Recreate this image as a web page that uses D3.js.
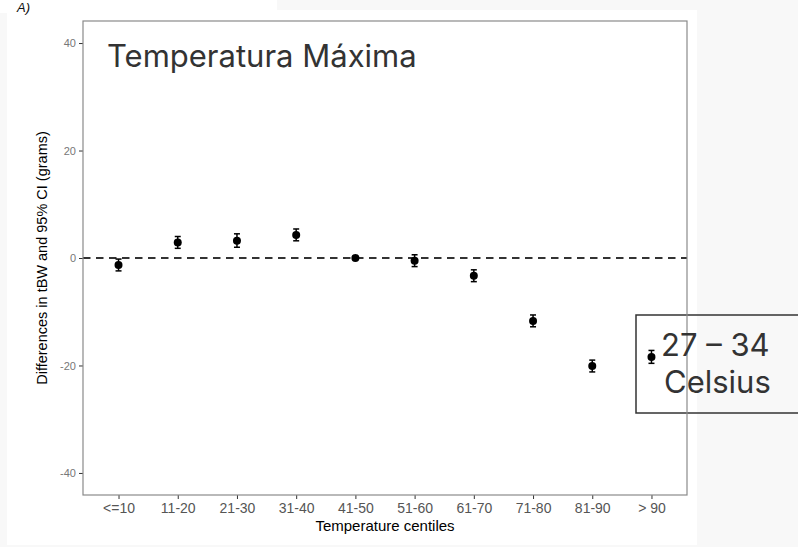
<!DOCTYPE html>
<html>
<head>
<meta charset="utf-8">
<script src="https://cdn.jsdelivr.net/npm/d3@7"></script>
<style>
  body { margin: 0; background: #f8f8f8; }
  svg { display: block; }
</style>
</head>
<body>
<div id="chart"></div>
<script>
// centiles of maximum temperature and the estimated difference in birth weight
var centiles = ["<=10", "11-20", "21-30", "31-40", "41-50", "51-60", "61-70", "71-80", "81-90", "> 90"];
var estimate = [-1.3, 2.9, 3.2, 4.3, 0, -0.5, -3.3, -11.7, -20.1, -18.4];
var ci_low  = [-2.4, 1.8, 2.0, 3.2, 0, -1.6, -4.4, -12.8, -21.2, -19.6];
var ci_high = [-0.2, 4.0, 4.5, 5.4, 0, 0.6, -2.2, -10.6, -19.0, -17.2];
var y_ticks = [-40, -20, 0, 20, 40];

var width = 798, height = 547;
var margin = {top: 21, right: 111, bottom: 52, left: 83};

var svg = d3.select("#chart").append("svg")
    .attr("width", width)
    .attr("height", height);

// white paper behind the figure
svg.append("rect").attr("x", 7).attr("y", 10).attr("width", 690).attr("height", 535).attr("fill", "#fff");
svg.append("rect").attr("x", 0).attr("y", 0).attr("width", 277).attr("height", 13).attr("fill", "#fff");

svg.append("text")
    .attr("x", 17).attr("y", 12)
    .style("font-family", "Liberation Sans, Arial, sans-serif")
    .style("font-size", "13px")
    .style("font-style", "italic")
    .attr("fill", "#111")
    .text("A)");

var x = d3.scalePoint()
    .domain(centiles)
    .range([margin.left, width - margin.right])
    .padding(0.6);

var y = d3.scaleLinear()
    .domain([-44.1, 44.1])
    .range([height - margin.bottom, margin.top]);

var data = centiles.map(function(c, i) {
  return {cat: c, est: estimate[i], lo: ci_low[i], hi: ci_high[i]};
});

// axes
var yAxis = svg.append("g")
    .attr("transform", "translate(" + margin.left + ",0)")
    .call(d3.axisLeft(y).tickValues(y_ticks).tickSize(4).tickPadding(3)
      .tickFormat(function(d) { return String(d); }));
yAxis.select(".domain").remove();
yAxis.selectAll("line").attr("stroke", "#333");
yAxis.selectAll("text")
    .attr("fill", "#777")
    .style("font-family", "Liberation Sans, Arial, sans-serif")
    .style("font-size", "11px");

var xAxis = svg.append("g")
    .attr("transform", "translate(0," + (height - margin.bottom) + ")")
    .call(d3.axisBottom(x).tickSize(4).tickPadding(4));
xAxis.select(".domain").remove();
xAxis.selectAll("line").attr("stroke", "#333");
xAxis.selectAll("text")
    .attr("fill", "#555")
    .style("font-family", "Liberation Sans, Arial, sans-serif")
    .style("font-size", "14px");

// zero reference line
svg.append("line")
    .attr("x1", margin.left).attr("x2", width - margin.right)
    .attr("y1", y(0)).attr("y2", y(0))
    .attr("stroke", "#333")
    .attr("stroke-width", 1.8)
    .attr("stroke-dasharray", "7.5,5.5");

// error bars
var bars = svg.append("g").selectAll("g")
    .data(data.filter(function(d) { return d.hi !== d.lo; }))
    .enter().append("g")
    .attr("stroke", "#000")
    .attr("stroke-width", 1.5);

bars.append("line")
    .attr("x1", function(d) { return x(d.cat); })
    .attr("x2", function(d) { return x(d.cat); })
    .attr("y1", function(d) { return y(d.lo); })
    .attr("y2", function(d) { return y(d.hi); });
bars.append("line")
    .attr("x1", function(d) { return x(d.cat) - 3; })
    .attr("x2", function(d) { return x(d.cat) + 3; })
    .attr("y1", function(d) { return y(d.lo); })
    .attr("y2", function(d) { return y(d.lo); });
bars.append("line")
    .attr("x1", function(d) { return x(d.cat) - 3; })
    .attr("x2", function(d) { return x(d.cat) + 3; })
    .attr("y1", function(d) { return y(d.hi); })
    .attr("y2", function(d) { return y(d.hi); });

svg.append("g").selectAll("circle")
    .data(data)
    .enter().append("circle")
    .attr("cx", function(d) { return x(d.cat); })
    .attr("cy", function(d) { return y(d.est); })
    .attr("r", 4)
    .attr("fill", "#000");

// axis titles
svg.append("text")
    .attr("x", (margin.left + width - margin.right) / 2)
    .attr("y", 531)
    .attr("text-anchor", "middle")
    .style("font-family", "Liberation Sans, Arial, sans-serif")
    .style("font-size", "15px")
    .attr("fill", "#000")
    .text("Temperature centiles");

svg.append("text")
    .attr("transform", "translate(47," + y(0) + ") rotate(-90)")
    .attr("text-anchor", "middle")
    .style("font-family", "Liberation Sans, Arial, sans-serif")
    .style("font-size", "14.5px")
    .attr("fill", "#000")
    .text("Differences in tBW and 95% CI (grams)");

// big title inside the panel
svg.append("text")
    .attr("x", 107).attr("y", 67)
    .style("font-family", "Inter, sans-serif")
    .style("font-size", "31px")
    .attr("fill", "#333")
    .text("Temperatura Máxima");

// annotation box
svg.append("rect")
    .attr("x", 636).attr("y", 315)
    .attr("width", 200).attr("height", 98)
    .attr("fill", "none")
    .attr("stroke", "#333")
    .attr("stroke-width", 1.5);

// panel border (drawn over the box like in the figure)
svg.append("rect")
    .attr("x", margin.left).attr("y", margin.top)
    .attr("width", width - margin.left - margin.right)
    .attr("height", height - margin.top - margin.bottom)
    .attr("fill", "none")
    .attr("stroke", "#8a8a8a")
    .attr("stroke-width", 1.2);

var box = svg.append("g")
    .style("font-family", "Inter, sans-serif")
    .style("font-size", "31px")
    .attr("fill", "#333");
box.append("text").attr("x", 661).attr("y", 356).text("27 – 34");
box.append("text").attr("x", 664).attr("y", 393).text("Celsius");
</script>
</body>
</html>
